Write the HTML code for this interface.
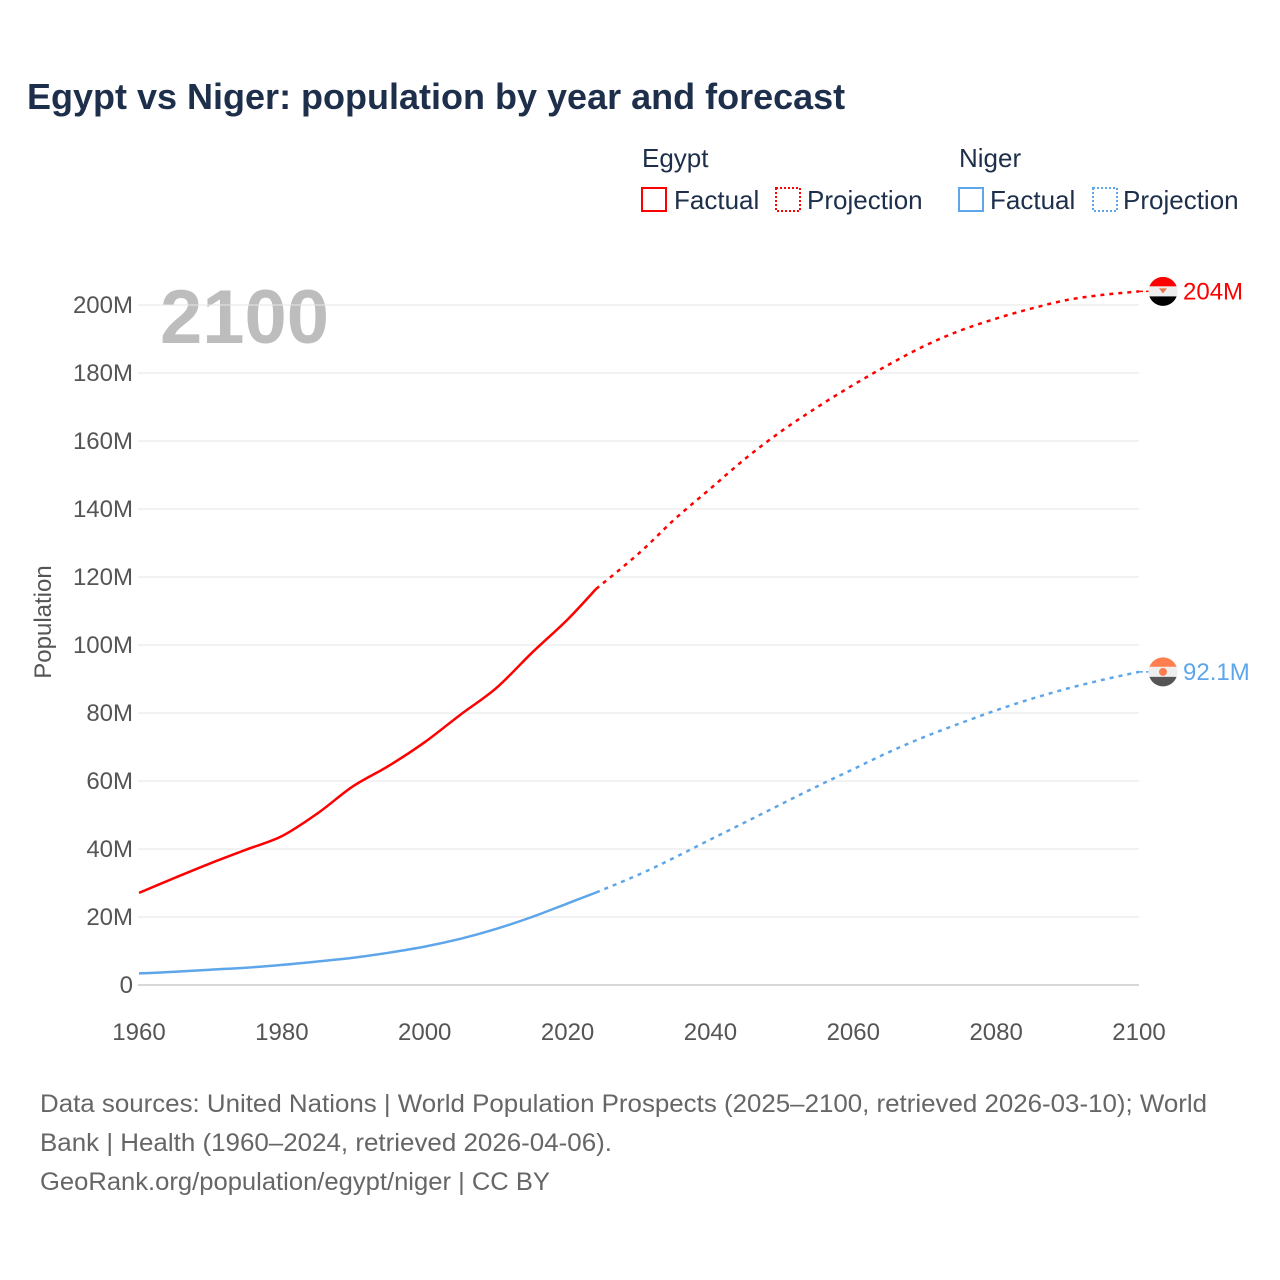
<!DOCTYPE html>
<html><head><meta charset="utf-8"><style>
body{margin:0;background:#fff;font-family:"Liberation Sans",sans-serif}
svg{display:block}
</style></head><body>
<svg id="chart" width="1280" height="1280" viewBox="0 0 1280 1280">
<text x="27" y="109" font-size="36" font-weight="bold" fill="#1d2f4a">Egypt vs Niger: population by year and forecast</text>
<g font-size="26" fill="#1d2f4a">
<text x="642" y="167">Egypt</text>
<text x="959" y="167">Niger</text>
<g><rect x="642" y="188" width="24" height="23" fill="none" stroke="#ff0000" stroke-width="2"/><text x="674" y="209">Factual</text></g>
<g><rect x="776" y="188" width="24" height="23" fill="none" stroke="#ff0000" stroke-width="2" stroke-dasharray="2,2"/><text x="807" y="209">Projection</text></g>
<g><rect x="959" y="188" width="24" height="23" fill="none" stroke="#5ea6ea" stroke-width="2"/><text x="990" y="209">Factual</text></g>
<g><rect x="1093" y="188" width="24" height="23" fill="none" stroke="#5ea6ea" stroke-width="2" stroke-dasharray="2,2"/><text x="1123" y="209">Projection</text></g>
</g>
<text x="160" y="343" font-size="76" font-weight="bold" fill="#bdbdbd">2100</text>
<g id="grid"></g><g id="yticks"></g><g id="xticks"></g><g id="lines"></g>
<text transform="translate(51,622) rotate(-90)" text-anchor="middle" font-size="24" fill="#555">Population</text>
<g font-size="25" fill="#666">
<text x="40" y="1112" textLength="1167" lengthAdjust="spacingAndGlyphs">Data sources: United Nations | World Population Prospects (2025–2100, retrieved 2026-03-10); World</text>
<text x="40" y="1151" textLength="572" lengthAdjust="spacingAndGlyphs">Bank | Health (1960–2024, retrieved 2026-04-06).</text>
<text x="40" y="1190" textLength="510" lengthAdjust="spacingAndGlyphs">GeoRank.org/population/egypt/niger | CC BY</text>
</g>
</svg>
<script>
const egyptYears=[1960,1965,1970,1975,1980,1985,1990,1995,2000,2005,2010,2015,2020,2024];
const egyptFactual=[27.1,31.5,35.8,39.8,43.8,50.5,58.5,64.5,71.4,79.5,87.3,97.7,107.5,116.5];
const nigerFactual=[3.4,3.9,4.5,5.1,5.9,6.9,8.0,9.5,11.3,13.6,16.5,20.0,24.0,27.2];
const projYears=[2024,2030,2035,2040,2045,2050,2055,2060,2065,2070,2075,2080,2085,2090,2095,2100];
const egyptProj=[116.5,127,137,146,155,163,170,176.5,182.5,188,192.5,196,199,201.5,203,204];
const nigerProj=[27.2,32.5,37.5,42.8,48,53.3,58.5,63.5,68.5,73,77,80.8,84.2,87.2,89.8,92.1];
const yTicks=[0,20,40,60,80,100,120,140,160,180,200];
const yTickLabels=["0","20M","40M","60M","80M","100M","120M","140M","160M","180M","200M"];
const xTicks=[1960,1980,2000,2020,2040,2060,2080,2100];
const endLabels=["204M","92.1M"];

const NS="http://www.w3.org/2000/svg";
const X=y=>139+(y-1960)*1000/140;
const Y=v=>985-v*3.4;
function mk(tag,attrs,parent){const e=document.createElementNS(NS,tag);for(const k in attrs)e.setAttribute(k,attrs[k]);parent.appendChild(e);return e;}
const grid=document.getElementById('grid'),yt=document.getElementById('yticks'),xt=document.getElementById('xticks'),lines=document.getElementById('lines');
yTicks.forEach((v,i)=>{
 const l=mk('line',{x1:138,x2:1139,y1:Y(v),y2:Y(v),stroke:v===0?'#ccc':'#e6e6e6','stroke-width':v===0?1.5:1},grid);
 
 
 const t=mk('text',{x:133,y:Y(v)+8,'text-anchor':'end','font-size':24,fill:'#555'},yt);
 t.textContent=yTickLabels[i];
 
 
});
xTicks.forEach(v=>{
 const t=mk('text',{x:X(v),y:1040,'text-anchor':'middle','font-size':24,fill:'#555'},xt);
 t.textContent=v;
 
 
});
function path(xs,vs){
 const P=xs.map((x,i)=>[X(x),Y(vs[i])]);
 let d='M'+P[0][0].toFixed(1)+','+P[0][1].toFixed(1);
 for(let i=0;i<P.length-1;i++){
  const p0=P[i-1]||P[i],p1=P[i],p2=P[i+1],p3=P[i+2]||P[i+1];
  const c1=[p1[0]+(p2[0]-p0[0])/6,p1[1]+(p2[1]-p0[1])/6];
  const c2=[p2[0]-(p3[0]-p1[0])/6,p2[1]-(p3[1]-p1[1])/6];
  d+='C'+c1.map(n=>n.toFixed(1)).join(',')+' '+c2.map(n=>n.toFixed(1)).join(',')+' '+p2.map(n=>n.toFixed(1)).join(',');
 }
 return d;
}
function line(xs,vs,color,dash,name){
 const p=mk('path',{d:path(xs,vs),fill:'none',stroke:color,'stroke-width':2.5,'stroke-linejoin':'round'},lines);
 if(dash)p.setAttribute('stroke-dasharray','4,5');
 
 
}
line(egyptYears,egyptFactual,'#ff0000',false,'egypt-factual-line');
line(projYears,egyptProj,'#ff0000',true,'egypt-projection-line');
line(egyptYears,nigerFactual,'#5ea6ea',false,'niger-factual-line');
line(projYears,nigerProj,'#5ea6ea',true,'niger-projection-line');
const eLast=egyptProj[egyptProj.length-1],nLast=nigerProj[nigerProj.length-1];
const ex=X(2100),ey=Y(eLast),ny=Y(nLast);
mk('line',{x1:ex,x2:ex+12,y1:ey,y2:ey,stroke:'#ff0000','stroke-width':1.5,'stroke-dasharray':'4,3'},lines);
mk('line',{x1:ex,x2:ex+12,y1:ny,y2:ny,stroke:'#5ea6ea','stroke-width':1.5,'stroke-dasharray':'4,3'},lines);
const defs=mk('defs',{},lines);
const c1=mk('clipPath',{id:'cE'},defs);mk('circle',{cx:1163,cy:ey,r:14.5},c1);
const c2=mk('clipPath',{id:'cN'},defs);mk('circle',{cx:1163,cy:ny,r:14.5},c2);
const fe=mk('g',{'clip-path':'url(#cE)'},lines);


mk('rect',{x:1148,y:ey-15,width:30,height:10,fill:'#ff0000'},fe);
mk('rect',{x:1148,y:ey-5,width:30,height:10,fill:'#eee'},fe);
mk('rect',{x:1148,y:ey+5,width:30,height:10,fill:'#000'},fe);
mk('path',{d:`M1159,${ey-3}L1167,${ey-3}L1163,${ey+2}Z`,fill:'#e8734a'},fe);
const fn=mk('g',{'clip-path':'url(#cN)'},lines);


mk('rect',{x:1148,y:ny-15,width:30,height:10,fill:'#ff7e4f'},fn);
mk('rect',{x:1148,y:ny-5,width:30,height:10,fill:'#eee'},fn);
mk('rect',{x:1148,y:ny+5,width:30,height:10,fill:'#555'},fn);
mk('circle',{cx:1163,cy:ny,r:4,fill:'#ff7e4f'},fn);
const le=mk('text',{x:1183,y:ey+8,'font-size':24,fill:'#ff0000'},lines);le.textContent=endLabels[0];


const ln=mk('text',{x:1183,y:ny+8,'font-size':24,fill:'#5ea6ea'},lines);ln.textContent=endLabels[1];


</script>
</body></html>
